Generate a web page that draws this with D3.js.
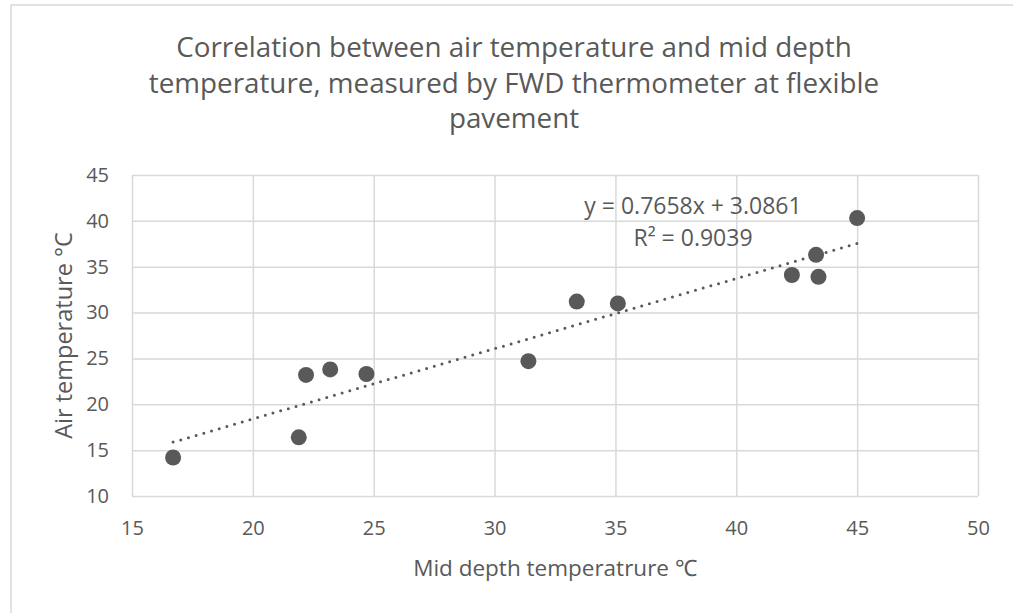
<!DOCTYPE html>
<html>
<head>
<meta charset="utf-8">
<script src="https://cdn.jsdelivr.net/npm/d3@7"></script>
<style>
  html, body { margin: 0; padding: 0; background: #fff; }
  svg text { font-family: "Open Sans", Lato, sans-serif; fill: #595959; }
</style>
</head>
<body>
<svg id="chart" width="1013" height="613"></svg>
<script>
// values
const midDepth = [16.7, 21.9, 22.2, 23.2, 24.7, 31.4, 33.4, 35.1, 42.3, 43.3, 43.4, 45.0];
const airTemp  = [14.2, 16.4, 23.2, 23.8, 23.3, 24.7, 31.2, 31.0, 34.1, 36.3, 33.9, 40.3];
const xTicks = [15, 20, 25, 30, 35, 40, 45, 50];
const yTicks = [10, 15, 20, 25, 30, 35, 40, 45];
const slope = 0.7658, intercept = 3.0861, rSquared = 0.9039;
const titleLines = [
  'Correlation between air temperature and mid depth',
  'temperature, measured by FWD thermometer at flexible',
  'pavement'
];

const svg = d3.select('#chart');
const margin = { left: 132, right: 1013 - 978, top: 175, bottom: 613 - 496 };
const w = 1013 - margin.left - margin.right,
  h = 613 - margin.top - margin.bottom;

const gridColor = '#d9d9d9',
  ink = '#595959';

// outer chart border
svg.append('rect')
  .attr('x', 11).attr('y', 5)
  .attr('width', 1100).attr('height', 700)
  .attr('fill', 'none')
  .attr('stroke', gridColor)
  .attr('stroke-width', 1.5);

const x = d3.scaleLinear().domain([15, 50]).range([0, w]);
const y = d3.scaleLinear().domain([10, 45]).range([h, 0]);

const g = svg.append('g').attr('transform', `translate(${margin.left},${margin.top})`);

// gridlines
g.append('g')
  .attr('transform', `translate(0,${h})`)
  .call(d3.axisBottom(x).tickValues(xTicks).tickSize(-h).tickFormat(''))
  .call(s => s.select('.domain').remove())
  .selectAll('line').attr('stroke', gridColor).attr('stroke-width', 1.5);

g.append('g')
  .call(d3.axisLeft(y).tickValues(yTicks).tickSize(-w).tickFormat(''))
  .call(s => s.select('.domain').remove())
  .selectAll('line').attr('stroke', gridColor).attr('stroke-width', 1.5);

// tick labels
const xAxis = g.append('g')
  .attr('transform', `translate(0,${h})`)
  .call(d3.axisBottom(x).tickValues(xTicks).tickSize(0).tickPadding(25));
xAxis.select('.domain').remove();
xAxis.selectAll('text')
  .attr('font-size', 20).attr('fill', ink)
  .style('font-family', '"Open Sans", sans-serif');

const yAxis = g.append('g')
  .call(d3.axisLeft(y).tickValues(yTicks).tickSize(0).tickPadding(23));
yAxis.select('.domain').remove();
yAxis.selectAll('text')
  .attr('font-size', 20).attr('fill', ink)
  .style('font-family', '"Open Sans", sans-serif');

// trendline
const xr = d3.extent(midDepth);
g.append('line')
  .attr('x1', x(xr[0])).attr('y1', y(slope * xr[0] + intercept))
  .attr('x2', x(xr[1])).attr('y2', y(slope * xr[1] + intercept))
  .attr('stroke', ink)
  .attr('stroke-width', 3)
  .attr('stroke-linecap', 'round')
  .attr('stroke-dasharray', '0 8');

// points
g.selectAll('circle.pt')
  .data(midDepth.map((d, i) => [d, airTemp[i]]))
  .join('circle')
  .attr('class', 'pt')
  .attr('cx', d => x(d[0]))
  .attr('cy', d => y(d[1]))
  .attr('r', 8)
  .attr('fill', ink);

// equation label
const eq = g.append('text')
  .attr('text-anchor', 'middle')
  .attr('font-size', 23);
eq.append('tspan').attr('x', 693 - margin.left).attr('y', 214 - margin.top)
  .text(`y = ${slope}x + ${intercept}`);
eq.append('tspan').attr('x', 693 - margin.left).attr('y', 246 - margin.top)
  .text(`R² = ${rSquared}`);

// title
svg.append('text')
  .attr('text-anchor', 'middle')
  .attr('font-size', 27.8)
  .selectAll('tspan')
  .data(titleLines)
  .join('tspan')
  .attr('x', 514)
  .attr('y', (d, i) => 57 + i * 35.5)
  .text(d => d);

// axis titles
svg.append('text')
  .attr('text-anchor', 'middle')
  .attr('font-size', 22.5)
  .attr('x', margin.left + w / 2)
  .attr('y', 576)
  .text('Mid depth temperatrure ℃');

svg.append('text')
  .attr('text-anchor', 'middle')
  .attr('font-size', 23.5)
  .attr('transform', `translate(72,${margin.top + h / 2}) rotate(-90)`)
  .text('Air temperature °C');
</script>
</body>
</html>
